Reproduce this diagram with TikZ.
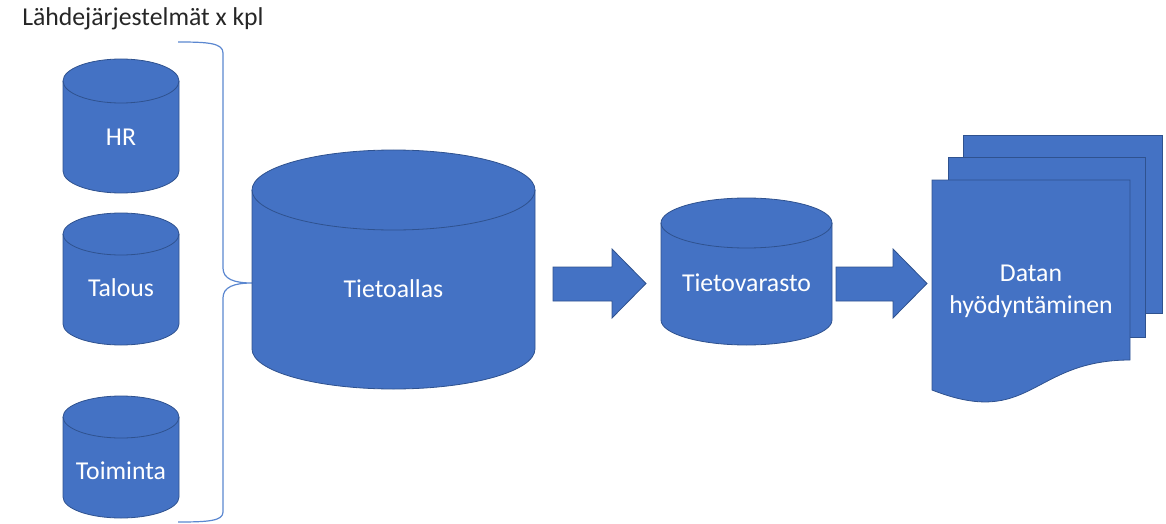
\documentclass[tikz,border=0pt]{standalone}
\usepackage{fontspec}
\setmainfont{Carlito}
\usepackage{xcolor}
\usepackage{tikz}

\definecolor{dbblue}{HTML}{4472C4}
\definecolor{dbedge}{HTML}{2F528F}
\definecolor{bracecol}{HTML}{5B87D0}

\begin{document}
\begin{tikzpicture}[x=0.75pt,y=-0.75pt,
  dbshape/.style={fill=dbblue,draw=dbedge,line width=0.6pt},
  lbl/.style={text=white,font=\fontsize{19.3}{24}\selectfont,anchor=base,inner sep=0pt},
  brc/.style={draw=bracecol,line width=0.9pt}]
\useasboundingbox (0,0) rectangle (1166,524);
% otsikko
\node[anchor=base west,inner sep=0pt,text=black!85,font=\fontsize{19.3}{24}\selectfont] (otsikko) at (22,26) {Lähdejärjestelmät x kpl};
% kaari lahdejarjestelmien ymparille
\draw[brc](178,42) .. controls (208,42) and (223,43) .. (223,53)
  --(223,268) .. controls (223,279) and (234,283) .. (252,283)
  .. controls (234,283) and (223,287) .. (223,298)
  --(223,512) .. controls (223,521) and (208,522) .. (178,522);
% tietokannat: nimi/vasen/oikea/yla/ala/sade/teksti/nimike
\foreach \nm/\xa/\xb/\ya/\yb/\r/\bl/\lab in {
  hr/63/179/59/193/22/146/HR,
  talous/63/179/213/345/21/296/Talous,
  toiminta/63/179/396/518/21/479/Toiminta,
  allas/252/535/150/389/40/297/Tietoallas,
  varasto/661/832/198/345/25/291/Tietovarasto}
{
  \pgfmathsetmacro\rx{(\xb-\xa)/2}
  \pgfmathsetmacro\cx{(\xa+\xb)/2}
  \draw[dbshape](\xa,{\ya+\r})--(\xa,{\yb-\r})
    arc[start angle=180,end angle=0,x radius=\rx,y radius=\r]
    --(\xb,{\ya+\r})
    arc[start angle=0,end angle=-180,x radius=\rx,y radius=\r]--cycle;
  \draw[dbshape,fill=none](\xa,{\ya+\r})
    arc[start angle=180,end angle=0,x radius=\rx,y radius=\r];
  \node[lbl](\nm) at (\cx,\bl){\lab};
}
% nuolet
\foreach \xa/\xb/\xc in {553/612/646,836/893/927}
  \draw[dbshape](\xa,267)--(\xb,267)--(\xb,249)--(\xc,283.5)--(\xb,318)--(\xb,301)--(\xa,301)--cycle;
% dokumenttipino
\draw[dbshape](963,135)rectangle(1162,313);
\draw[dbshape](948,157)rectangle(1145,337);
\draw[dbshape](932,180)--(1130,180)--(1130,360)
  .. controls (1031,360) and (1031,429) .. (932,390)--cycle;
\node[lbl,align=center](data) at (1031,313){Datan\\hyödyntäminen};
\end{tikzpicture}
\end{document}
